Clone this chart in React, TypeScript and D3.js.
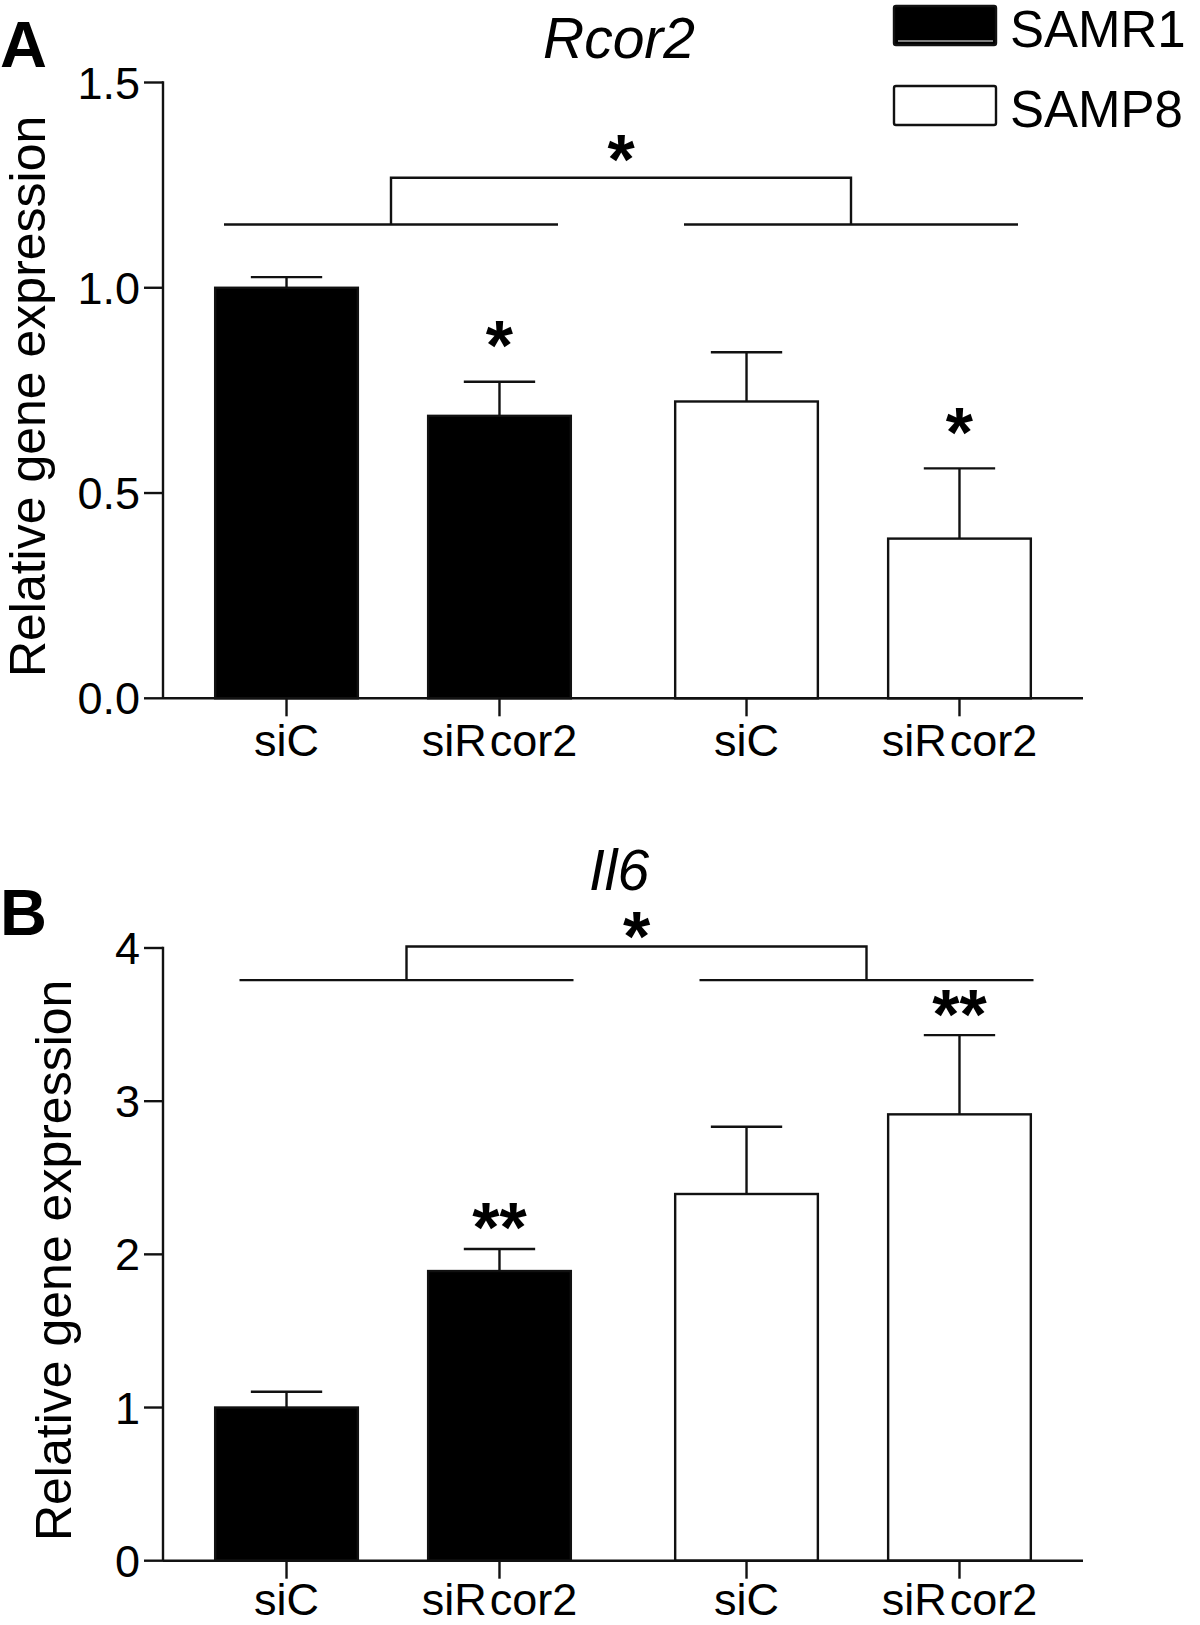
import React from "react";
import * as d3 from "d3";

// ---------- data ----------
const groups = ["SAMR1", "SAMP8"];
const treatments = ["siC", "siRcor2"];
const groupFills = ["#000000", "#ffffff"];

const rcor2Mean = [1.0, 0.688, 0.723, 0.389];
const rcor2Sem = [0.026, 0.083, 0.12, 0.171];
const rcor2Sig = ["", "*", "", "*"];
const rcor2Ticks = [0, 0.5, 1.0, 1.5];

const il6Mean = [1.0, 1.891, 2.394, 2.914];
const il6Sem = [0.103, 0.144, 0.439, 0.517];
const il6Sig = ["", "**", "", "**"];
const il6Ticks = [0, 1, 2, 3, 4];

// ---------- layout ----------
const FONT = "'Liberation Sans', Arial, Helvetica, sans-serif";
const X_LEFT = 163;
const X_RIGHT = 1083;
const SW = 2.4;

type PanelProps = {
  letter: string;
  title: string;
  mean: number[];
  sem: number[];
  sig: string[];
  ticks: number[];
  yMax: number;
  fmt: (v: number) => string;
  yBottom: number;
  yTop: number;
  letterY: number;
  titleY: number;
  ylabelX: number;
  xLabelGap: number;
  sigGap: number;
  bracketLine: number;
  bracketTop: number;
  bracketShift: number;
  bracketStarGap: number;
};

function Panel(p: PanelProps) {
  const x0 = d3.scaleBand<string>().domain(groups).range([X_LEFT, X_RIGHT]).paddingInner(0).paddingOuter(0);
  const x1 = d3
    .scaleBand<string>()
    .domain(treatments)
    .range([0, x0.bandwidth()])
    .paddingInner(0.33)
    .paddingOuter(0.245);
  const y = d3.scaleLinear().domain([0, p.yMax]).range([p.yBottom, p.yTop]);

  const bars = groups.flatMap((g, gi) =>
    treatments.map((t, ti) => {
      const i = gi * treatments.length + ti;
      return {
        g,
        gi,
        t,
        i,
        x: (x0(g) as number) + (x1(t) as number),
        w: x1.bandwidth(),
        v: p.mean[i],
        e: p.sem[i],
        s: p.sig[i],
      };
    })
  );

  const starFs = 70;
  const starBase = (cy: number) => cy + 0.42 * starFs;
  const halfLine = 167;
  const gc = groups.map((g) => (x0(g) as number) + x0.bandwidth() / 2 + p.bracketShift);
  const midX = (X_LEFT + X_RIGHT) / 2;

  return (
    <g>
      <text x={0} y={p.letterY} fontFamily={FONT} fontWeight="bold" fontSize={65}>
        {p.letter}
      </text>
      <text x={midX - 4} y={p.titleY} fontFamily={FONT} fontStyle="italic" fontSize={57} textAnchor="middle">
        {p.title}
      </text>
      <text
        transform={`translate(${p.ylabelX},${(p.yBottom + p.yTop) / 2 + 6}) rotate(-90)`}
        fontFamily={FONT}
        fontSize={50}
        textAnchor="middle"
      >
        Relative gene expression
      </text>

      {/* bars */}
      {bars.map((b) => (
        <rect
          key={"bar" + b.i}
          x={b.x}
          y={y(b.v)}
          width={b.w}
          height={y(0) - y(b.v)}
          fill={groupFills[b.gi]}
          stroke="#111"
          strokeWidth={SW}
        />
      ))}
      {/* error bars */}
      {bars.map((b) => {
        const cx = b.x + b.w / 2;
        return (
          <g key={"err" + b.i} stroke="#111" strokeWidth={SW}>
            <line x1={cx} x2={cx} y1={y(b.v)} y2={y(b.v + b.e)} />
            <line x1={cx - b.w / 4} x2={cx + b.w / 4} y1={y(b.v + b.e)} y2={y(b.v + b.e)} />
          </g>
        );
      })}
      {/* significance */}
      {bars
        .filter((b) => b.s)
        .map((b) => (
          <text
            key={"sig" + b.i}
            x={b.x + b.w / 2}
            y={starBase(y(b.v + b.e) - p.sigGap)}
            fontFamily={FONT}
            fontWeight="bold"
            fontSize={starFs}
            textAnchor="middle"
          >
            {b.s}
          </text>
        ))}

      {/* bracket */}
      <g stroke="#111" strokeWidth={SW} fill="none">
        {gc.map((c, k) => (
          <line key={"bl" + k} x1={c - halfLine} x2={c + halfLine} y1={y(p.bracketLine)} y2={y(p.bracketLine)} />
        ))}
        <path
          d={`M${gc[0]},${y(p.bracketLine)}V${y(p.bracketTop)}H${gc[1]}V${y(p.bracketLine)}`}
        />
      </g>
      <text
        x={(gc[0] + gc[1]) / 2}
        y={starBase(y(p.bracketTop) - p.bracketStarGap)}
        fontFamily={FONT}
        fontWeight="bold"
        fontSize={starFs}
        textAnchor="middle"
      >
        *
      </text>

      {/* y axis */}
      <g stroke="#111" strokeWidth={SW}>
        <line x1={X_LEFT} x2={X_LEFT} y1={y(p.yMax) - SW / 2} y2={y(0)} />
        {p.ticks.map((t) => (
          <line key={"yt" + t} x1={X_LEFT - 19} x2={X_LEFT} y1={y(t)} y2={y(t)} />
        ))}
      </g>
      {p.ticks.map((t) => (
        <text
          key={"ytl" + t}
          x={140}
          y={y(t) + 16}
          fontFamily={FONT}
          fontSize={45}
          textAnchor="end"
        >
          {p.fmt(t)}
        </text>
      ))}

      {/* x axis */}
      <g stroke="#111" strokeWidth={SW}>
        <line x1={X_LEFT} x2={X_RIGHT} y1={y(0)} y2={y(0)} />
        {bars.map((b) => (
          <line key={"xt" + b.i} x1={b.x + b.w / 2} x2={b.x + b.w / 2} y1={y(0)} y2={y(0) + 18} />
        ))}
      </g>
      {bars.map((b) => (
        <text
          key={"xtl" + b.i}
          x={b.x + b.w / 2}
          y={y(0) + p.xLabelGap}
          fontFamily={FONT}
          fontSize={45}
          textAnchor="middle"
        >
          {b.t === "siRcor2" ? (
            <>
              <tspan>siR</tspan>
              <tspan dx={3}>cor2</tspan>
            </>
          ) : (
            b.t
          )}
        </text>
      ))}
    </g>
  );
}

function Legend() {
  const rows = groups.map((g, i) => ({ g, i }));
  const ly = d3.scaleBand<string>().domain(groups).range([4, 164]).padding(0);
  return (
    <g>
      {rows.map((r) => {
        const top = (ly(r.g) as number) + 2;
        return (
          <g key={r.g}>
            <rect
              x={894}
              y={top}
              width={102}
              height={39}
              rx={2}
              fill={groupFills[r.i]}
              stroke="#111"
              strokeWidth={SW}
            />
            {r.i === 0 && <line x1={898} x2={993} y1={top + 35} y2={top + 35} stroke="#fff" strokeWidth={1} />}
            <text x={1010} y={top + 40.5} fontFamily={FONT} fontSize={51}>
              {r.g}
            </text>
          </g>
        );
      })}
    </g>
  );
}

export default function App() {
  return (
    <svg
      width={1200}
      height={1625}
      viewBox="0 0 1200 1625"
      style={{ position: "absolute", left: 0, top: 0, background: "#fff" }}
    >
      <rect x={0} y={0} width={1200} height={1625} fill="#fff" />
      <Panel
        letter="A"
        title="Rcor2"
        mean={rcor2Mean}
        sem={rcor2Sem}
        sig={rcor2Sig}
        ticks={rcor2Ticks}
        yMax={1.5}
        fmt={d3.format(".1f")}
        yBottom={698.3}
        yTop={82.5}
        letterY={67}
        titleY={58}
        ylabelX={45}
        xLabelGap={58}
        sigGap={41}
        bracketLine={1.154}
        bracketTop={1.268}
        bracketShift={-2}
        bracketStarGap={22.7}
      />
      <Panel
        letter="B"
        title="Il6"
        mean={il6Mean}
        sem={il6Sem}
        sig={il6Sig}
        ticks={il6Ticks}
        yMax={4}
        fmt={d3.format("d")}
        yBottom={1560.7}
        yTop={948}
        letterY={935}
        titleY={890}
        ylabelX={71}
        xLabelGap={54}
        sigGap={26}
        bracketLine={3.79}
        bracketTop={4.01}
        bracketShift={13.5}
        bracketStarGap={15}
      />
      <Legend />
    </svg>
  );
}
